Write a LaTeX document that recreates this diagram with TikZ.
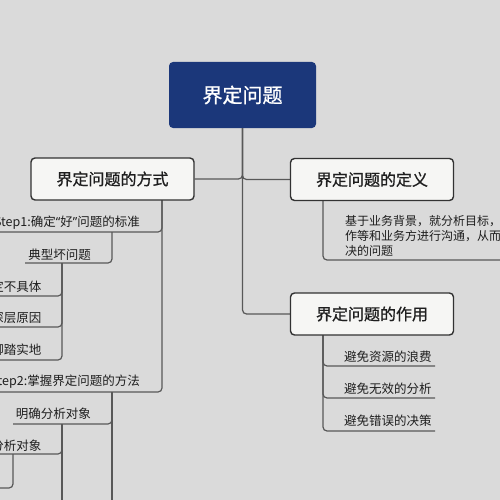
\documentclass[tikz,border=0pt]{standalone}
\usepackage{fontspec}
\setmainfont{Noto Sans CJK SC}
\newfontfamily\latinq{Noto Sans}
\newfontfamily\semib[FakeBold=0.9]{Noto Sans CJK SC}
\definecolor{bg}{RGB}{218,218,218}
\definecolor{navy}{RGB}{27,55,122}
\definecolor{boxfill}{RGB}{246,246,244}
\definecolor{edgec}{RGB}{50,50,50}
\definecolor{connc}{RGB}{88,88,88}
\definecolor{txt}{RGB}{30,30,30}
\begin{document}
\begin{tikzpicture}[x=1pt,y=-1pt,
  mainbox/.style={draw=edgec, line width=1.4pt, fill=boxfill, rounded corners=4pt,
    minimum width=163pt, minimum height=42pt, inner sep=0pt,
    font=\fontsize{16}{18}\selectfont\semib, text=txt},
  leaf/.style={anchor=east, inner sep=0pt, font=\fontsize{12.5}{14}\selectfont, text=txt},
  para/.style={anchor=west, inner sep=0pt, font=\fontsize{12}{14}\selectfont, text=txt},
  conn/.style={draw=connc, line width=1.2pt, rounded corners=4pt}]
\useasboundingbox (0,0) rectangle (500,500);
\fill[bg] (0,0) rectangle (500,500);
\begin{scope}
\clip (0,0) rectangle (500,500);
% main nodes
\node[fill=navy, rounded corners=4pt, minimum width=147pt, minimum height=66pt, inner sep=0pt,
  text=white, font=\fontsize{20}{22}\selectfont\semib] (root) at (242.5,95) {界定问题};
% joints
\coordinate (m1j) at (162,200);
\coordinate (s1j) at (112,232);
\coordinate (t1j) at (62,263);
\coordinate (s2j) at (112,392);
\coordinate (q2j) at (62,424);
\coordinate (q3j) at (13,454);
\coordinate (d1j) at (323,201);
\coordinate (r1j) at (323,335);
% underline ends
\coordinate (s1a) at (-5,232);
\coordinate (t1a) at (25,263);
\coordinate (u1a) at (-5,296);
\coordinate (u2a) at (-5,327);
\coordinate (u3a) at (-5,360);
\coordinate (s2a) at (-5,392);
\coordinate (q2a) at (13,424);
\coordinate (q3a) at (-5,454);
\coordinate (q4a) at (-5,488);
\coordinate (s2end) at (112,510);
\coordinate (q2end) at (62,510);
\coordinate (d1a) at (510,260);
\coordinate (r1a) at (435,366);
\coordinate (r2a) at (435,398);
\coordinate (r3a) at (435,431);
% connectors
\node[mainbox, draw=none, fill=none] (m1p) at (112.5,179) {};
\node[mainbox, draw=none, fill=none] (m2p) at (372,179.5) {};
\node[mainbox, draw=none, fill=none] (m3p) at (372,314) {};
\path[conn] (root.south) |- (m3p.west);
\path[conn] (m1p.east) -| (root.south);
\path[conn] (m2p.west) -| (root.south);
\path[conn] (s1a) -| (m1j);
\path[conn] (s2a) -| (m1j);
\path[conn] (t1a) -| (s1j);
\path[conn] (u1a) -| (t1j);
\path[conn] (u2a) -| (t1j);
\path[conn] (u3a) -| (t1j);
\path[conn] (q2a) -| (s2j);
\path[conn] (s2j) -- (s2end);
\path[conn] (q3a) -| (q2j);
\path[conn] (q2j) -- (q2end);
\path[conn] (q4a) -| (q3j);
\path[conn] (d1a) -| (d1j);
\path[conn] (r1a) -| (r1j);
\path[conn] (r2a) -| (r1j);
\path[conn] (r3a) -| (r1j);
% boxes
\node[mainbox] (m1) at (112.5,179) {界定问题的方式};
\node[mainbox] (m2) at (372,179.5) {界定问题的定义};
\node[mainbox] (m3) at (372,314) {界定问题的作用};
% left texts
\node[leaf] (s1) at (140,223) {Step1:确定{\latinq “}好{\latinq ”}问题的标准};
\node[leaf] (t1) at (91,255) {典型坏问题};
\node[leaf] (u1) at (41.5,287) {定不具体};
\node[leaf] (u2) at (41.5,318) {深层原因};
\node[leaf] (u3) at (41.5,350) {脚踏实地};
\node[leaf] (s2) at (140,382) {Step2:掌握界定问题的方法};
\node[leaf] (q2) at (91,414) {明确分析对象};
\node[leaf] (q3) at (41.5,446) {分析对象};
% right texts
\node[para] (d1) at (345,221) {基于业务背景，就分析目标，};
\node[para] (d2) at (345,236) {作等和业务方进行沟通，从而};
\node[para] (d3) at (345,250.5) {决的问题};
\node[para, font=\fontsize{12.5}{14}\selectfont] (r1) at (344,357) {避免资源的浪费};
\node[para, font=\fontsize{12.5}{14}\selectfont] (r2) at (344,388.5) {避免无效的分析};
\node[para, font=\fontsize{12.5}{14}\selectfont] (r3) at (344,420.5) {避免错误的决策};
\end{scope}
\end{tikzpicture}
\end{document}
